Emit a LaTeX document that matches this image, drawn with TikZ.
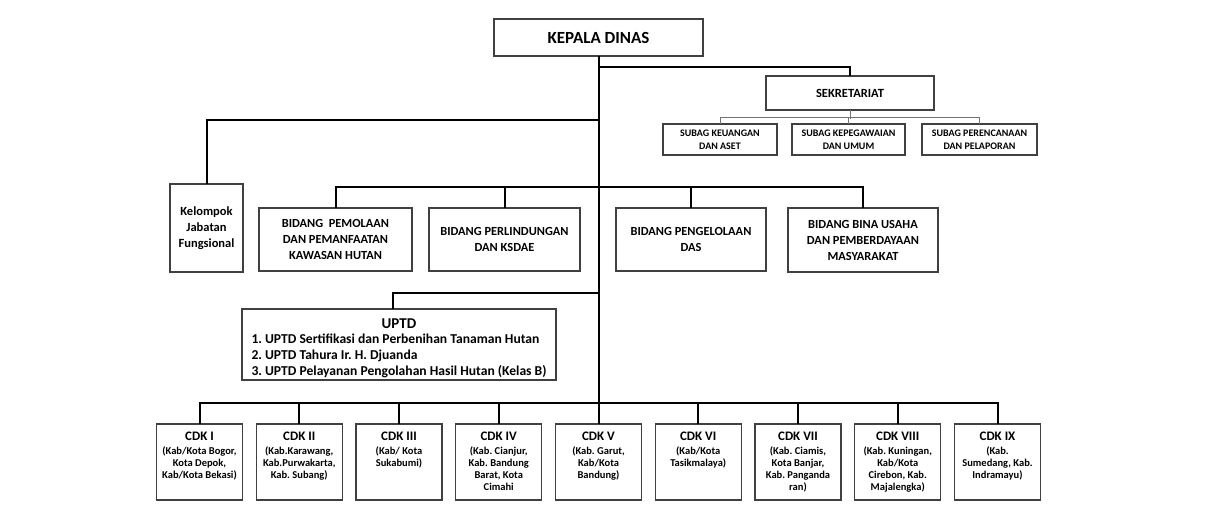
\documentclass[tikz,border=0pt]{standalone}
\usepackage{fontspec}
\setmainfont{Carlito}
\newcommand{\fsz}[2]{\fontsize{#1}{#2}\selectfont}
\frenchspacing

\begin{document}
\begin{tikzpicture}[line cap=rect,line join=miter,x=1pt,y=-1pt,
  box/.style={draw=black!75,line width=1.4pt,fill=white,align=center,
    inner sep=0pt,font=\bfseries},
  conn/.style={line width=2pt,draw=black},
  subline/.style={line width=1pt,draw=black!55},
  cdkbox/.style={box,minimum width=86,minimum height=76},
  cdktext/.style={anchor=north,align=center,inner sep=0pt,
    font=\bfseries\fsz{10.5}{12}}]
\useasboundingbox (0,0) rectangle (1207,527);
% top
\node[box,minimum width=209,minimum height=37,font=\bfseries\fsz{17}{19}] (kepala) at (598.5,37.5) {KEPALA DINAS};
\node[box,minimum width=168,minimum height=34,font=\bfseries\fsz{12.5}{14}] (sekretariat) at (850,93) {SEKRETARIAT};
\node[box,minimum width=114,minimum height=31,font=\bfseries\fsz{10}{13}] (subag1) at (720,139.5) {SUBAG KEUANGAN\\DAN ASET};
\node[box,minimum width=113,minimum height=31,font=\bfseries\fsz{10}{13}] (subag2) at (848.5,139.5) {SUBAG KEPEGAWAIAN\\DAN UMUM};
\node[box,minimum width=115,minimum height=31,font=\bfseries\fsz{10}{13}] (subag3) at (979.5,139.5) {SUBAG PERENCANAAN\\DAN PELAPORAN};
% bidang
\node[box,minimum width=73,minimum height=88,font=\bfseries\fsz{12.5}{16}] (kelompok) at (206.5,228) {Kelompok\\Jabatan\\Fungsional};
\node[box,minimum width=153,minimum height=63,font=\bfseries\fsz{12.4}{16}] (bid1) at (335.5,239.5) {BIDANG \ PEMOLAAN\\DAN PEMANFAATAN\\KAWASAN HUTAN};
\node[box,minimum width=151,minimum height=63,font=\bfseries\fsz{12.4}{16}] (bid2) at (504.5,239.5) {BIDANG PERLINDUNGAN\\DAN KSDAE};
\node[box,minimum width=150,minimum height=63,font=\bfseries\fsz{12.4}{16}] (bid3) at (691,239.5) {BIDANG PENGELOLAAN\\DAS};
\node[box,minimum width=150,minimum height=64,font=\bfseries\fsz{12.4}{16}] (bid4) at (863,240) {BIDANG BINA USAHA\\DAN PEMBERDAYAAN\\MASYARAKAT};
% uptd
\node[box,minimum width=314,minimum height=71,align=left,font=\bfseries\fsz{13.6}{15.8}] (uptd) at (399,344.5) {\rule{0pt}{17pt}\makebox[295pt][c]{\fsz{15}{15.8}UPTD}\\
1. UPTD Sertifikasi dan Perbenihan Tanaman Hutan\\
2. UPTD Tahura Ir. H. Djuanda\\
3. UPTD Pelayanan Pengolahan Hasil Hutan (Kelas B)};
% cdk
\foreach \i/\nm/\txt in {1/I/{(Kab/Kota Bogor,\\Kota Depok,\\Kab/Kota Bekasi)},
    2/II/{(Kab.Karawang,\\Kab.Purwakarta,\\Kab. Subang)},
    3/III/{(Kab/ Kota\\Sukabumi)},
    4/IV/{(Kab. Cianjur,\\Kab. Bandung\\Barat, Kota\\Cimahi},
    5/V/{(Kab. Garut,\\Kab/Kota\\Bandung)},
    6/VI/{(Kab/Kota\\Tasikmalaya)},
    7/VII/{(Kab. Ciamis,\\Kota Banjar,\\Kab. Panganda\\ran)},
    8/VIII/{(Kab. Kuningan,\\Kab/Kota\\Cirebon, Kab.\\Majalengka)},
    9/IX/{(Kab.\\Sumedang, Kab.\\Indramayu)}}{
  \node[cdkbox] (cdk\i) at ({199.5+99.75*(\i-1)},462) {};
  \node[cdktext] (cdk\i txt) at ([yshift=-8.5pt]cdk\i.north)
    {{\fsz{13}{12}CDK \nm}\\[1.5pt]\txt};
}
% connectors
\coordinate (jsek) at (598.5,67);
\coordinate (jkel) at (598.5,120);
\coordinate (juptd) at (598.5,293);
\draw[conn] (kepala.south) -- (cdk5.north);
\draw[conn] (jsek) -| (sekretariat.north);
\draw[conn] (jkel) -| (kelompok.north);
\draw[conn] (juptd) -| ([xshift=-6pt]uptd.north);
\draw[conn] (bid1.north) -- ++(0,-20) -| (bid4.north);
\draw[conn] (bid2.north) -- ++(0,-20);
\draw[conn] (bid3.north) -- ++(0,-20);
\draw[conn] (cdk1.north) -- ++(0,-20) -| (cdk9.north);
\foreach \i in {2,...,8}
  \draw[conn] (cdk\i.north) -- ++(0,-20);
\draw[subline] (subag1.north) -- ++(0,-6) -| (subag3.north);
\draw[subline] (subag2.north) -- ++(0,-6);
\draw[subline] (sekretariat.south) -- ++(0,8);
\end{tikzpicture}
\end{document}
